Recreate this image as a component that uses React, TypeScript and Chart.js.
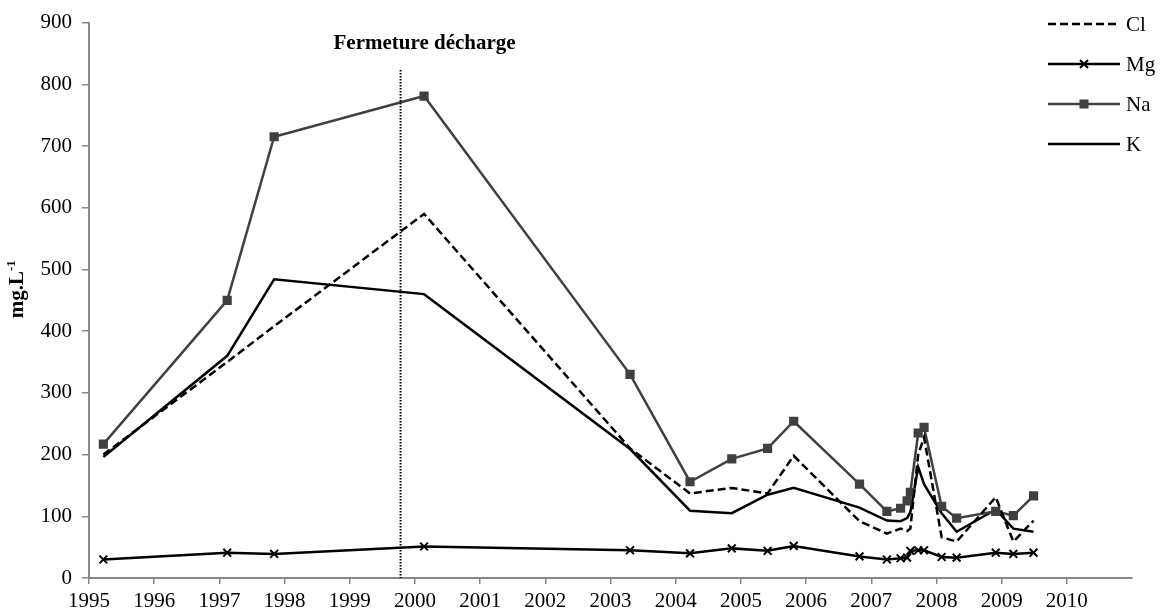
import React, { useEffect, useRef } from 'react';
import { Chart, registerables } from 'chart.js';

Chart.register(...registerables);

// Sampling dates (decimal years)
const dates = [1995.22, 1997.12, 1997.84, 2000.14, 2003.3, 2004.22, 2004.86, 2005.41, 2005.81, 2006.82, 2007.24, 2007.45, 2007.55, 2007.6, 2007.72, 2007.81, 2008.08, 2008.31, 2008.91, 2009.18, 2009.49];
// Concentrations (mg/L)
const clValues = [200, 350, 408, 590, 210, 137, 146, 137, 198, 92, 72, 80, 76, 80, 200, 228, 66, 59, 131, 59, 93];
const mgValues = [30, 41, 39, 51, 45, 40, 48, 44, 52, 35, 30, 32, 33, 44, 45, 45, 34, 33, 41, 39, 41];
const naValues = [217, 450, 715, 781, 330, 156, 193, 210, 254, 152, 108, 113, 125, 139, 235, 244, 116, 97, 108, 101, 133];
const kValues = [196, 360, 484, 460, 209, 109, 105, 135, 146, 114, 93, 92, 97, 107, 180, 152, 105, 75, 111, 80, 75];

const seriesNames = ['Cl', 'Mg', 'Na', 'K'];
const xMin = 1995;
const xMax = 2011;
const xLastLabel = 2010;
const yMin = 0;
const yMax = 900;
const yStep = 100;

const annotationYear = 1999.78;
const annotationTopValue = 823;
const annotationTextValue = 857;
const annotationLabel = 'Fermeture décharge';
const yTitleMain = 'mg.L';
const yTitleSup = '-1';

const FONT = "'Liberation Serif', 'Times New Roman', serif";
const AXIS_COLOR = '#868686';

const toPoints = (vals: number[]) => dates.map((d, i) => ({ x: d, y: vals[i] }));

const styles = [
  { color: '#000000', dash: [8, 4], point: false as const, width: 2.5 },
  { color: '#000000', dash: [] as number[], point: 'crossRot' as const, width: 2.5 },
  { color: '#404040', dash: [] as number[], point: 'rect' as const, width: 2.5 },
  { color: '#000000', dash: [] as number[], point: false as const, width: 2.5 },
];

const overlayPlugin = {
  id: 'overlay',
  afterDraw(chart: any) {
    const ctx = chart.ctx;
    const xs = chart.scales.x;
    const ys = chart.scales.y;
    const area = chart.chartArea;

    // Vertical dotted annotation line
    const lx = xs.getPixelForValue(annotationYear);
    ctx.save();
    ctx.strokeStyle = '#000';
    ctx.lineWidth = 2;
    ctx.setLineDash([1.5, 1.5]);
    ctx.beginPath();
    ctx.moveTo(lx, ys.getPixelForValue(annotationTopValue));
    ctx.lineTo(lx, area.bottom);
    ctx.stroke();
    ctx.restore();

    // Annotation text
    ctx.save();
    ctx.font = `bold 21px ${FONT}`;
    ctx.fillStyle = '#000';
    ctx.textAlign = 'center';
    ctx.textBaseline = 'alphabetic';
    ctx.fillText(annotationLabel, lx + 24, ys.getPixelForValue(annotationTextValue));
    ctx.restore();

    // Y axis title with superscript
    ctx.save();
    const mainFont = `bold 21px ${FONT}`;
    const supFont = `bold 13px ${FONT}`;
    ctx.font = mainFont;
    const w1 = ctx.measureText(yTitleMain).width;
    ctx.font = supFont;
    const w2 = ctx.measureText(yTitleSup).width;
    const total = w1 + w2;
    const cy = (area.top + area.bottom) / 2 - 11;
    ctx.translate(23, cy);
    ctx.rotate(-Math.PI / 2);
    ctx.fillStyle = '#000';
    ctx.textBaseline = 'alphabetic';
    ctx.textAlign = 'left';
    ctx.font = mainFont;
    ctx.fillText(yTitleMain, -total / 2, 0);
    ctx.font = supFont;
    ctx.fillText(yTitleSup, -total / 2 + w1, -8);
    ctx.restore();

    // Legend
    ctx.save();
    const lx0 = 1048;
    const lx1 = 1120;
    seriesNames.forEach((name, i) => {
      const st = styles[i];
      const y = 24 + 40 * i;
      ctx.strokeStyle = st.color;
      ctx.lineWidth = st.width;
      ctx.setLineDash(st.dash);
      ctx.beginPath();
      ctx.moveTo(lx0, y);
      ctx.lineTo(lx1, y);
      ctx.stroke();
      ctx.setLineDash([]);
      const mx = (lx0 + lx1) / 2;
      if (st.point === 'crossRot') {
        ctx.lineWidth = 2;
        const r = 4;
        ctx.beginPath();
        ctx.moveTo(mx - r, y - r);
        ctx.lineTo(mx + r, y + r);
        ctx.moveTo(mx - r, y + r);
        ctx.lineTo(mx + r, y - r);
        ctx.stroke();
      } else if (st.point === 'rect') {
        ctx.fillStyle = st.color;
        ctx.fillRect(mx - 4.5, y - 4.5, 9, 9);
      }
      ctx.fillStyle = '#000';
      ctx.font = `21px ${FONT}`;
      ctx.textAlign = 'left';
      ctx.textBaseline = 'middle';
      ctx.fillText(name, lx1 + 6, y + 1);
    });
    ctx.restore();
  },
};

export default function App() {
  const canvasRef = useRef<HTMLCanvasElement | null>(null);

  useEffect(() => {
    const canvas = canvasRef.current;
    if (!canvas) return;
    const valueSets = [clValues, mgValues, naValues, kValues];
    const chart = new Chart(canvas, {
      type: 'line',
      data: {
        datasets: seriesNames.map((name, i) => {
          const st = styles[i];
          return {
            label: name,
            data: toPoints(valueSets[i]),
            borderColor: st.color,
            backgroundColor: st.color,
            borderWidth: st.width,
            borderDash: st.dash,
            fill: false,
            tension: 0,
            pointStyle: st.point === false ? 'circle' : st.point,
            pointRadius: st.point === false ? 0 : st.point === 'rect' ? 6.5 : 5.5,
            pointBorderWidth: st.point === 'crossRot' ? 2 : 0,
            pointBorderColor: st.color,
            pointBackgroundColor: st.color,
            pointHoverRadius: 0,
          } as any;
        }),
      },
      options: {
        responsive: false,
        animation: false,
        devicePixelRatio: 1,
        layout: { padding: { top: 18, right: 32, left: 0, bottom: 0 } },
        plugins: {
          legend: { display: false },
          tooltip: { enabled: false },
        },
        events: [],
        scales: {
          x: {
            type: 'linear',
            min: xMin,
            max: xMax,
            afterBuildTicks: (scale: any) => {
              scale.ticks = scale.ticks.filter((t: any) => t.value <= xLastLabel);
            },
            afterFit: (scale: any) => {
              scale.height = 37;
            },
            ticks: {
              stepSize: 1,
              autoSkip: false,
              maxRotation: 0,
              padding: 5,
              color: '#000',
              font: { family: FONT, size: 21 },
              callback: (v: any) => String(v),
            },
            grid: {
              display: true,
              drawOnChartArea: false,
              drawTicks: true,
              tickLength: 6,
              color: AXIS_COLOR,
              lineWidth: 1.5,
            },
            border: { display: true, color: AXIS_COLOR, width: 2 },
          },
          y: {
            type: 'linear',
            min: yMin,
            max: yMax,
            afterFit: (scale: any) => {
              scale.width = 89;
            },
            ticks: {
              stepSize: yStep,
              padding: 10,
              color: '#000',
              font: { family: FONT, size: 21 },
              callback: (v: any) => String(v),
            },
            grid: {
              display: true,
              drawOnChartArea: false,
              drawTicks: true,
              tickLength: 7,
              color: AXIS_COLOR,
              lineWidth: 1.5,
            },
            border: { display: true, color: AXIS_COLOR, width: 2 },
          },
        },
      },
      plugins: [overlayPlugin],
    });
    return () => chart.destroy();
  }, []);

  return (
    <div style={{ position: 'fixed', left: 0, top: 0, width: 1164, height: 615, background: '#fff' }}>
      <canvas ref={canvasRef} width={1164} height={615} style={{ width: 1164, height: 615, display: 'block' }} />
    </div>
  );
}
